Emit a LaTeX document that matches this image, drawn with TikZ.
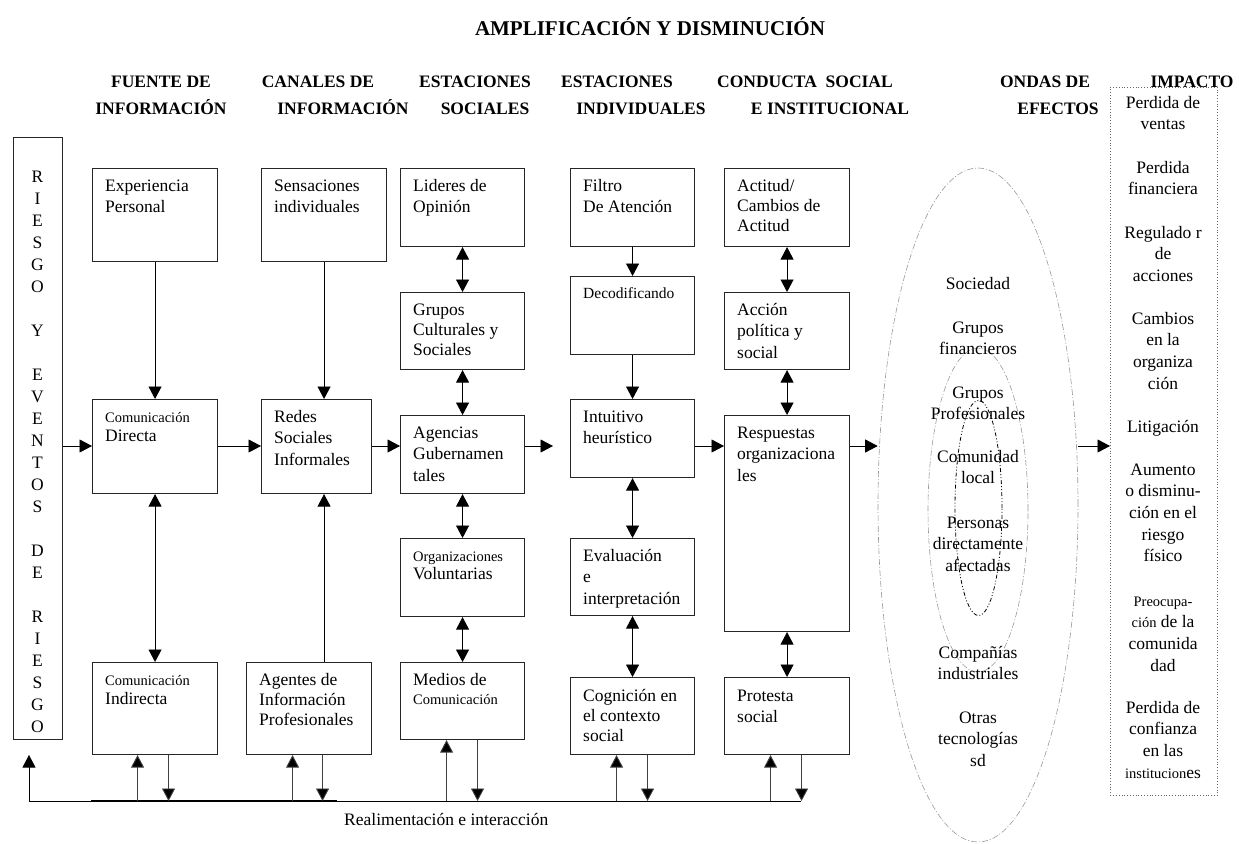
\documentclass[tikz,border=0pt]{standalone}
\usepackage{fontspec}
\setmainfont{Liberation Serif}
\usetikzlibrary{arrows.meta,shapes.geometric}
\newcommand{\fs}{\rule{0pt}{13pt}}
\newcommand{\sm}[1]{{\fontsize{14.5}{17}\selectfont #1}}
\begin{document}
\begin{tikzpicture}[x=1pt,y=-1pt,
  font=\fontsize{17.5}{21.5}\selectfont,
  box/.style={draw=black!85, line width=1.1pt, anchor=north west, inner sep=0pt},
  btxt/.style={anchor=north west, inner sep=0pt, align=left},
  ctxt/.style={anchor=north, inner sep=0pt, align=center},
  hdr/.style={font=\fontsize{17.5}{21.5}\selectfont\bfseries, inner sep=0pt, text height=12pt, text depth=0pt},
  arr/.style={draw=black, line width=0.9pt, -{Triangle[length=12.5pt,width=13pt]}},
  darr/.style={draw=black, line width=0.9pt, {Triangle[length=12.5pt,width=13pt]}-{Triangle[length=12.5pt,width=13pt]}},
  farr/.style={draw=black!75, line width=0.9pt, -{Triangle[length=12.5pt,width=13pt,fill=black]}},
  wave/.style={draw=black!40, line width=0.6pt, dash pattern=on 6pt off 2pt on 1pt off 2pt, ellipse, inner sep=0pt},
]
\useasboundingbox (0,0) rectangle (1239,843);

% title and headers
\node[font=\fontsize{21}{25}\selectfont\bfseries, inner sep=0pt, text height=14.5pt, text depth=0pt] (title) at (650,28) {AMPLIFICACIÓN Y DISMINUCIÓN};
\node[hdr] (h1a) at (161,82) {FUENTE DE};
\node[hdr] (h1b) at (161,108) {INFORMACIÓN};
\node[hdr] (h2a) at (318,82) {CANALES DE};
\node[hdr] (h2b) at (343,108) {INFORMACIÓN};
\node[hdr] (h3a) at (475,82) {ESTACIONES};
\node[hdr] (h3b) at (485,108) {SOCIALES};
\node[hdr] (h4a) at (617,82) {ESTACIONES};
\node[hdr] (h4b) at (641,108) {INDIVIDUALES};
\node[hdr] (h5a) at (805,82) {CONDUCTA\ \ SOCIAL};
\node[hdr] (h5b) at (830,108) {E INSTITUCIONAL};
\node[hdr] (h6a) at (1045,82) {ONDAS DE};
\node[hdr] (h6b) at (1058,108) {EFECTOS};
\node[hdr] (h7a) at (1192,82) {IMPACTO};

% left bar
\node[box, minimum width=49pt, minimum height=602pt] (bar) at (13,137) {};
\foreach \ch [count=\k] in {R,I,E,S,G,O,{},Y,{},E,V,E,N,T,O,S,{},D,E,{},R,I,E,S,G,O}
  \node[inner sep=0pt, text height=12pt, text depth=0pt] (bl\k) at (37.5,{176+22*(\k-1)}) {\ch};

% boxes
\node[box, minimum width=125pt, minimum height=93pt] (ep) at (92,168) {};
\node[box, minimum width=125pt, minimum height=94pt] (cd) at (92,399) {};
\node[box, minimum width=125pt, minimum height=92pt] (ci) at (92,662) {};
\node[box, minimum width=125pt, minimum height=93pt] (si) at (261,168) {};
\node[box, minimum width=110pt, minimum height=94pt] (rs) at (261,399) {};
\node[box, minimum width=125pt, minimum height=92pt] (ai) at (246,662) {};
\node[box, minimum width=124pt, minimum height=78pt] (lo) at (400,168) {};
\node[box, minimum width=124pt, minimum height=77pt] (gc) at (400,292) {};
\node[box, minimum width=124pt, minimum height=78pt] (ag) at (400,415) {};
\node[box, minimum width=124pt, minimum height=78pt] (ov) at (400,538) {};
\node[box, minimum width=124pt, minimum height=77pt] (mc) at (400,662) {};
\node[box, minimum width=124pt, minimum height=78pt] (fa) at (570,168) {};
\node[box, minimum width=124pt, minimum height=78pt] (de) at (570,276) {};
\node[box, minimum width=124pt, minimum height=78pt] (ih) at (570,399) {};
\node[box, minimum width=124pt, minimum height=77pt] (ei) at (570,538) {};
\node[box, minimum width=124pt, minimum height=77pt] (cc) at (570,677) {};
\node[box, minimum width=125pt, minimum height=78pt] (ac) at (724,168) {};
\node[box, minimum width=125pt, minimum height=77pt] (ap) at (724,292) {};
\node[box, minimum width=125pt, minimum height=216pt] (ro) at (724,415) {};
\node[box, minimum width=125pt, minimum height=77pt] (ps) at (724,677) {};

% box texts
\node[btxt] (ept) at ([shift={(13,10)}]ep.north west) {\fs Experiencia\\Personal};
\node[btxt] (cdt) at ([shift={(13,10)}]cd.north west) {\fs\sm{Comunicación}\\[-2.5pt]Directa};
\node[btxt] (cit) at ([shift={(13,10)}]ci.north west) {\fs\sm{Comunicación}\\[-2.5pt]Indirecta};
\node[btxt] (sit) at ([shift={(13,10)}]si.north west) {\fs Sensaciones\\individuales};
\node[btxt] (rst) at ([shift={(13,10)}]rs.north west) {\fs Redes\\Sociales\\Informales};
\node[btxt] (ait) at ([shift={(13,10)}]ai.north west) {\fs Agentes de\\[-1.5pt]Información\\[-1.5pt]Profesionales};
\node[btxt] (lot) at ([shift={(13,10)}]lo.north west) {\fs Lideres de\\Opinión};
\node[btxt] (gct) at ([shift={(13,10)}]gc.north west) {\fs Grupos\\[-1.5pt]Culturales y\\[-1.5pt]Sociales};
\node[btxt] (agt) at ([shift={(13,10)}]ag.north west) {\fs Agencias\\Gubernamen\\tales};
\node[btxt] (ovt) at ([shift={(13,10)}]ov.north west) {\fs\sm{Organizaciones}\\[-3pt]Voluntarias};
\node[btxt] (mct) at ([shift={(13,10)}]mc.north west) {\fs Medios de\\[-2.5pt]\sm{Comunicación}};
\node[btxt] (fat) at ([shift={(13,10)}]fa.north west) {\fs Filtro\\De Atención};
\node[btxt] (det) at ([shift={(13,9)}]de.north west) {\fs{\fontsize{15.5}{18}\selectfont Decodificando}};
\node[btxt] (iht) at ([shift={(13,10)}]ih.north west) {\fs Intuitivo\\heurístico};
\node[btxt] (eit) at ([shift={(13,10)}]ei.north west) {\fs Evaluación\\e\\interpretación};
\node[btxt] (cct) at ([shift={(13,11)}]cc.north west) {\fs Cognición en\\[-1.5pt]el contexto\\[-1.5pt]social};
\node[btxt] (act) at ([shift={(13,10)}]ac.north west) {\fs Actitud/\\[-1.5pt]Cambios de\\[-1.5pt]Actitud};
\node[btxt] (apt) at ([shift={(13,10)}]ap.north west) {\fs Acción\\política y\\social};
\node[btxt] (rot) at ([shift={(13,10)}]ro.north west) {\fs Respuestas\\organizaciona\\les};
\node[btxt] (pst) at ([shift={(13,11)}]ps.north west) {\fs Protesta\\social};

% waves of effects
\node[wave, minimum width=200pt, minimum height=674pt] (outer) at (978,505) {};
\node[wave, minimum width=100pt, minimum height=324pt] (middle) at (978,510) {};
\node[ellipse, inner sep=0pt, draw=black, line width=0.8pt, dash pattern=on 4pt off 2pt on 1pt off 2pt on 1pt off 2pt, minimum width=47pt, minimum height=215pt] (inner) at (978.5,508) {};
\node[ctxt] (w1) at (978,276) {\fs Sociedad};
\node[ctxt] (w2) at (978,320) {\fs Grupos\\financieros};
\node[ctxt] (w3) at (978,385) {\fs Grupos\\Profesionales};
\node[ctxt] (w4) at (978,449) {\fs Comunidad\\local};
\node[ctxt] (w5) at (978,515) {\fs Personas\\directamente\\afectadas};
\node[ctxt] (w6) at (978,645) {\fs Compañías\\industriales};
\node[ctxt] (w7) at (978,710) {\fs Otras\\tecnologías\\sd};

% impact column
\node[draw=black!60, dotted, line width=0.8pt, anchor=north west, inner sep=0pt, minimum width=107pt, minimum height=708pt] (imp) at (1110,87) {};
\begin{scope}[font=\fontsize{17.5}{21.6}\selectfont]
\node[ctxt] (i1) at (1163,95) {\fs Perdida de\\ventas};
\node[ctxt] (i2) at (1163,160) {\fs Perdida\\financiera};
\node[ctxt] (i3) at (1163,225) {\fs Regulado r\\de\\acciones};
\node[ctxt] (i4) at (1163,311) {\fs Cambios\\en la\\organiza\\ción};
\node[ctxt] (i5) at (1163,419) {\fs Litigación};
\node[ctxt] (i6) at (1163,462) {\fs Aumento\\o disminu-\\ción en el\\riesgo\\físico};
\node[ctxt] (i7) at (1163,593) {\fs\sm{Preocupa-}\\\sm{ción} de la\\comunida\\dad};
\node[ctxt] (i8) at (1163,700) {\fs Perdida de\\confianza\\en las\\\sm{institucion}es};
\end{scope}

% vertical connectors
\draw[arr] (ep) -- (cd);
\draw[darr] (cd) -- (ci);
\draw[arr] (si.south) -- (si.south |- rs.north);
\draw[arr] (si.south |- ai.north) -- (si.south |- rs.south);
\draw[darr] (lo) -- (gc);
\draw[darr] (gc) -- (ag);
\draw[darr] (ag) -- (ov);
\draw[darr] (ov) -- (mc);
\draw[arr] (fa) -- (de);
\draw[arr] (de) -- (ih);
\draw[darr] (ih) -- (ei);
\draw[darr] (ei) -- (cc);
\draw[darr] (ac) -- (ap);
\draw[darr] (ap) -- (ro);
\draw[darr] (ro) -- (ps);

% horizontal connectors
\coordinate (row) at (0,446);
\coordinate (agend) at (553,446);
\draw[arr] (bar.east |- row) -- (cd.west |- row);
\draw[arr] (cd.east |- row) -- (rs.west |- row);
\draw[arr] (rs.east |- row) -- (ag.west |- row);
\draw[arr] (ag.east |- row) -- (agend);
\draw[arr] (ih.east |- row) -- (ro.west |- row);
\draw[arr] (ro.east |- row) -- (outer.west |- row);
\draw[arr] (outer.east |- row) -- (imp.west |- row);

% feedback loop
\coordinate (fbL) at (29,801);
\coordinate (fbT) at (29,755);
\coordinate (fbR) at (801,801);
\coordinate (thA) at (91,801);
\coordinate (thB) at (337,801);
\draw[black, line width=0.9pt] (fbL) -- (fbR);
\draw[black, line width=2pt] (thA) -- (thB);
\draw[arr] (fbL) -- (fbT);
\foreach \b/\u/\d in {ci/-17.5/13.5, ai/-16.5/13.5, mc/-16/15, cc/-16/15, ps/-16.5/14.5} {
  \coordinate (\b-up) at ([xshift=\u pt]\b.south);
  \coordinate (\b-dn) at ([xshift=\d pt]\b.south);
  \draw[farr] (\b-up |- fbL) -- (\b-up);
  \draw[farr] (\b-dn) -- (\b-dn |- fbL);
}
\node[anchor=west, inner sep=0pt, text height=12pt, text depth=4pt] (fbt) at (344,821) {Realimentación e interacción};
\end{tikzpicture}
\end{document}
